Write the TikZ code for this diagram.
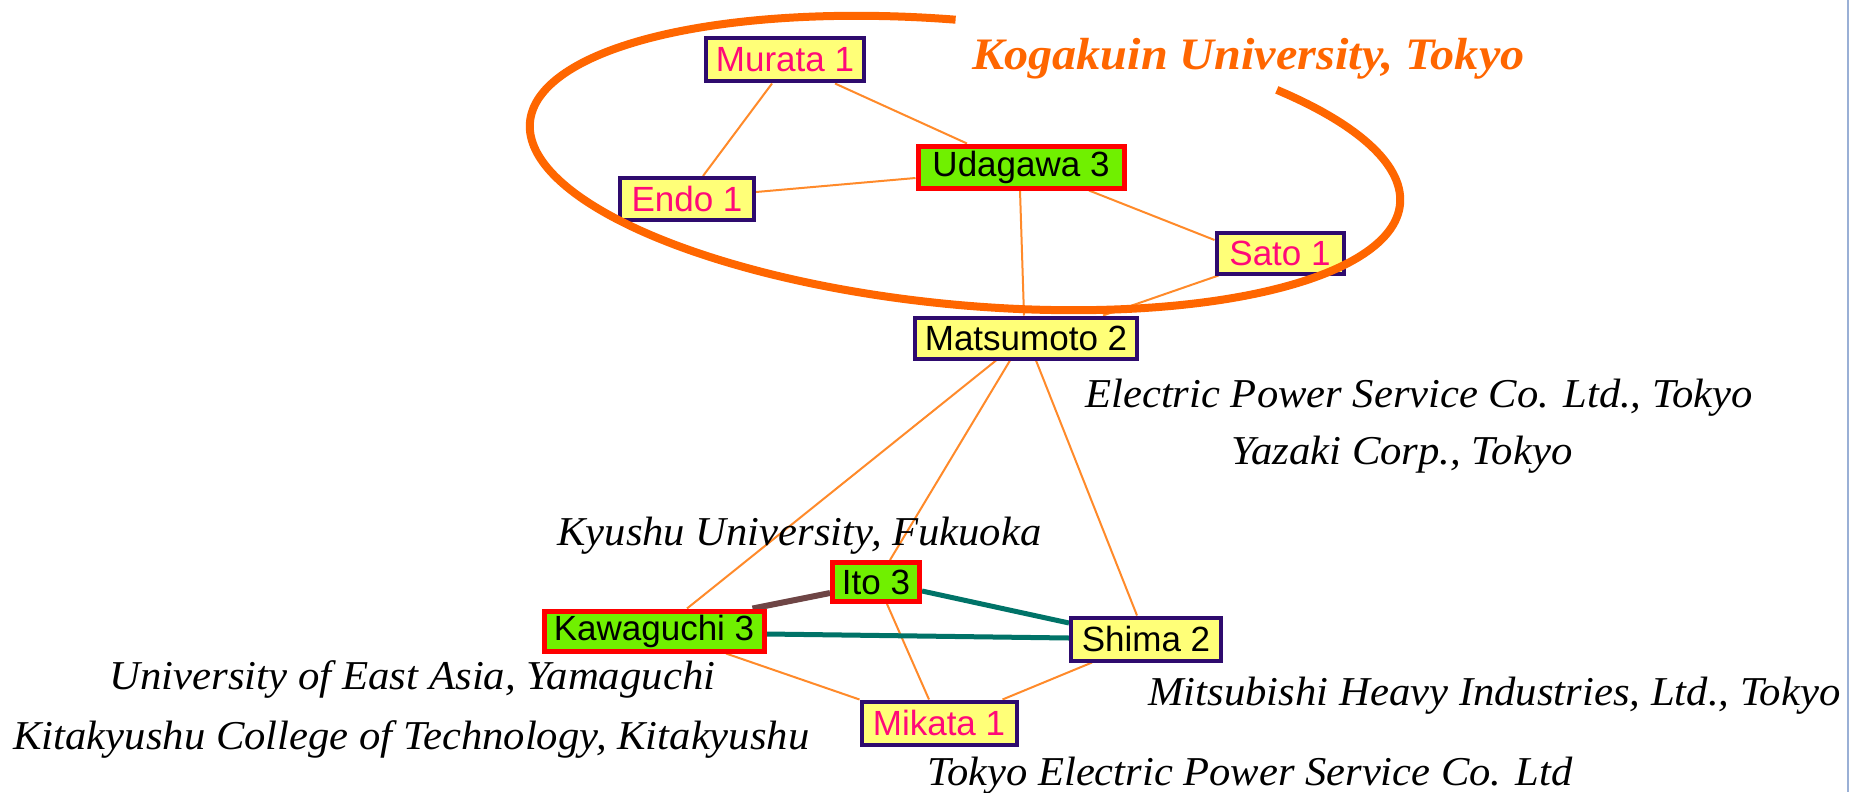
\documentclass[tikz,border=0pt]{standalone}
\usepackage{fontspec}
\usepackage{graphicx}
\setmainfont{Liberation Serif}
\newfontfamily\nodefont{Liberation Sans}
\usetikzlibrary{calc}
\pgfdeclarelayer{bg}
\pgfsetlayers{bg,main}
\definecolor{ringorange}{HTML}{FF6600}
\definecolor{edgeorange}{HTML}{FF8A2A}
\definecolor{nodepurple}{HTML}{2E0B6E}
\definecolor{nodeyellow}{HTML}{FFFF78}
\definecolor{nodegreen}{HTML}{70F000}
\definecolor{nodered}{HTML}{FF0000}
\definecolor{nodepink}{HTML}{FF0A78}
\definecolor{tealedge}{HTML}{007368}
\definecolor{brownedge}{HTML}{6E4545}
\definecolor{edgeblue}{HTML}{9AB0D6}
\tikzset{
  ynode/.style={draw=nodepurple, line width=2pt, fill=nodeyellow, inner sep=0pt,
    font=\nodefont\fontsize{17.5}{20}\selectfont, text=black},
  gnode/.style={ynode, draw=nodered, line width=2.5pt, fill=nodegreen},
  pinktext/.style={text=nodepink},
  lab/.style={inner sep=0pt, anchor=base west, font=\itshape\fontsize{20.5}{24}\selectfont},
  thinedge/.style={draw=edgeorange, line width=1pt},
  tealline/.style={draw=tealedge, line width=2.5pt},
  brownline/.style={draw=brownedge, line width=3pt},
  ring/.style={draw=ringorange, line width=4pt}
}
\begin{document}
\begin{tikzpicture}[x=0.5pt,y=-0.5pt]
\useasboundingbox (0,0) rectangle (1851,792);
\begin{pgfonlayer}{bg}
\fill[white] (0,0) rectangle (1851,792);
\end{pgfonlayer}
\draw[edgeblue, line width=0.8pt] (1848,0) -- (1848,792);

% nodes
\node[ynode, pinktext, minimum width=79pt, minimum height=21.5pt] (mur) at (785,60) {Murata 1};
\node[gnode, minimum width=103pt, minimum height=21pt] (uda) at (1021,167) {Udagawa 3};
\node[ynode, pinktext, minimum width=67pt, minimum height=21pt] (endo) at (687,199) {Endo 1};
\node[ynode, pinktext, minimum width=63.5pt, minimum height=20.5pt] (sato) at (1280,253) {Sato 1};
\node[ynode, minimum width=111pt, minimum height=20.5pt] (mat) at (1026,338) {Matsumoto 2};
\node[gnode, minimum width=43.5pt, minimum height=19.5pt] (ito) at (876,582) {Ito 3};
\node[gnode, minimum width=110pt, minimum height=20pt] (kaw) at (654,631) {Kawaguchi 3};
\node[ynode, minimum width=75pt, minimum height=21.5pt] (shi) at (1146,639) {Shima 2};
\node[ynode, pinktext, minimum width=77.5pt, minimum height=21.5pt] (mik) at (939,723) {Mikata 1};

% edges
\begin{pgfonlayer}{bg}
\draw[thinedge] ($(mur.south)+(-13,0)$) -- ($(endo.north)+(16,0)$);
\draw[thinedge] ($(mur.south)+(50,0)$) -- ($(uda.north)+(-54,0)$);
\draw[thinedge] ($(endo.east)+(0,-7)$) -- ($(uda.west)+(0,11)$);
\draw[thinedge] ($(uda.south)+(-1,0)$) -- ($(mat.north)+(-2,0)$);
\draw[thinedge] ($(uda.south)+(68,0)$) -- ($(sato.west)+(0,-13)$);
\draw[thinedge] ($(sato.south west)+(4,0)$) -- ($(mat.north)+(77,0)$);
\draw[thinedge] ($(mat.south)+(-30,0)$) -- ($(kaw.north)+(33,0)$);
\draw[thinedge] ($(mat.south)+(-16,0)$) -- ($(ito.north)+(14,0)$);
\draw[thinedge] ($(mat.south)+(10,0)$) -- ($(shi.north)+(-9,0)$);
\draw[thinedge] ($(ito.south)+(11,0)$) -- ($(mik.north)+(-10,0)$);
\draw[thinedge] ($(kaw.south)+(72,0)$) -- (mik.north west);
\draw[thinedge] ($(shi.south)+(-54,0)$) -- ($(mik.north east)+(-16,0)$);
\draw[brownline] ($(ito.west)+(0,11)$) -- ($(kaw.north east)+(-14,0)$);
\draw[tealline] ($(ito.east)+(0,9)$) -- ($(shi.west)+(0,-16)$);
\draw[tealline] ($(kaw.east)+(0,3)$) -- ($(shi.west)+(0,-1)$);
\end{pgfonlayer}

% labels
\node[lab, text=ringorange, font=\bfseries\itshape\fontsize{22.5}{26}\selectfont] (kog) at (972,70)
  {\resizebox{276pt}{\height}{Kogakuin University, Tokyo}};
\node[lab] (epsc) at (1085,407) {\resizebox{333.5pt}{\height}{Electric Power Service Co. Ltd., Tokyo}};
\node[lab] (yaz) at (1231,464) {\resizebox{170.5pt}{\height}{Yazaki Corp., Tokyo}};
\node[lab] (kyu) at (557,545) {\resizebox{242pt}{\height}{Kyushu University, Fukuoka}};
\node[lab] (uea) at (109,689) {\resizebox{303pt}{\height}{University of East Asia, Yamaguchi}};
\node[lab] (kct) at (13,749) {\resizebox{398pt}{\height}{Kitakyushu College of Technology, Kitakyushu}};
\node[lab] (mhi) at (1148,705) {\resizebox{346pt}{\height}{Mitsubishi Heavy Industries, Ltd., Tokyo}};
\node[lab] (tepsc) at (927,785) {\resizebox{322.5pt}{\height}{Tokyo Electric Power Service Co. Ltd}};

% ring
\draw[ring] plot[domain=-46:267, samples=140, smooth]
  ({965+437*cos(\x)*cos(5.4)-142*sin(\x)*sin(5.4)}, {163+437*cos(\x)*sin(5.4)+142*sin(\x)*cos(5.4)});
\end{tikzpicture}
\end{document}
